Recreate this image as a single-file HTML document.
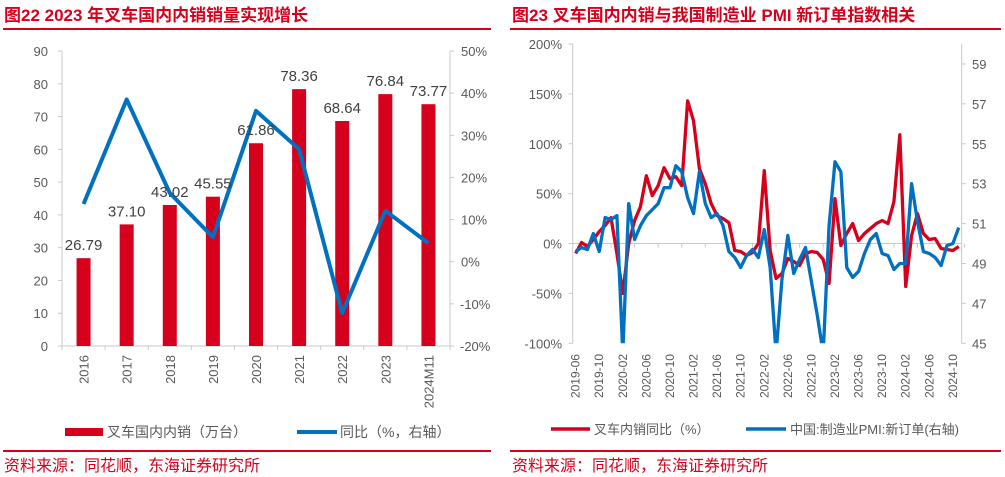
<!DOCTYPE html>
<html><head><meta charset="utf-8"><style>
html,body{margin:0;padding:0;background:#fff;width:1005px;height:477px;overflow:hidden;}
svg{display:block;font-family:"Liberation Sans","Noto Sans CJK SC",sans-serif;}
</style></head><body>
<svg id="s" width="1005" height="477" viewBox="0 0 1005 477" xmlns="http://www.w3.org/2000/svg">
<text x="4" y="21" font-size="17" font-weight="bold" fill="#d6001c">图22  2023 年叉车国内内销销量实现增长</text>
<line x1="3" y1="29" x2="491" y2="29" stroke="#d6001c" stroke-width="2"/>
<text x="512" y="21" font-size="17" font-weight="bold" fill="#d6001c">图23  叉车国内内销与我国制造业 PMI 新订单指数相关</text>
<line x1="510" y1="29" x2="1001" y2="29" stroke="#d6001c" stroke-width="2"/>
<line x1="3" y1="451" x2="491" y2="451" stroke="#d6001c" stroke-width="2"/>
<line x1="510" y1="451" x2="1001" y2="451" stroke="#d6001c" stroke-width="2"/>
<text x="4" y="471" font-size="16" fill="#d6001c">资料来源：同花顺，东海证券研究所</text>
<text x="512" y="471" font-size="16" fill="#d6001c">资料来源：同花顺，东海证券研究所</text>
<g id="L"></g>
<g id="R"></g>
</svg>
<script>
const barCats=["2016","2017","2018","2019","2020","2021","2022","2023","2024M11"];
const barVals=[26.79,37.10,43.02,45.55,61.86,78.36,68.64,76.84,73.77];
const growthVals=[13.7,38.5,16.3,5.8,35.8,26.7,-12.2,12.1,4.4];
const leftTicks=[0,10,20,30,40,50,60,70,80,90];
const rightTicks=[-20,-10,0,10,20,30,40,50];

const redVals=[-10,1,-3,4,12,18,26,-10,-50,0,23,37,68,48,58,76,65,67,58,143,123,75,60,40,28,25,21,-7,-8,-12,-9,0,73,-7,-35,-30,-15,-18,-22,-10,-8,-9,-16,-40,45,-2,10,20,3,10,15,20,23,20,42,109,-43,8,30,10,4,5,-5,-6,-7,-3];
const pmiVals=[49.6,49.8,49.7,50.5,49.6,51.3,51.2,51.4,29.3,52.0,50.2,50.9,51.4,51.7,52.0,52.8,52.8,53.9,53.6,52.3,51.5,53.6,52.0,51.3,51.5,50.9,49.6,49.3,48.8,49.4,49.7,49.3,50.7,48.8,42.6,48.2,50.4,48.5,49.2,49.8,48.1,46.4,43.9,50.9,54.1,53.6,48.8,48.3,48.6,49.5,50.2,50.5,49.5,49.4,48.7,49.0,49.0,53.0,51.1,49.6,49.5,49.3,48.9,49.9,50.0,50.8];
const pctTicks=[-100,-50,0,50,100,150,200];
const pmiTicks=[45,47,49,51,53,55,57,59];
const startYear=2019,startMonth=6;

const NS="http://www.w3.org/2000/svg";
function mk(tag,attrs,parent,text){const e=document.createElementNS(NS,tag);for(const k in attrs)e.setAttribute(k,attrs[k]);if(text!==undefined)e.textContent=text;parent.appendChild(e);return e;}
const RED="#d6001c",BLUE="#0070c0",GRID="#c8c8c8",TXT="#595959";

const L=document.getElementById('L');
const lx0=62,lx1=450,ly0=346,ly1=51;
const bw=(lx1-lx0)/barCats.length;
const xL=i=>lx0+bw*(i+0.5);
const yL=v=>ly0-(v/90)*(ly0-ly1);
const yG=v=>ly0-((v+20)/70)*(ly0-ly1);
let e;
e=mk('line',{x1:lx0,y1:ly1,x2:lx0,y2:ly0,stroke:GRID},L);


e=mk('line',{x1:lx1,y1:ly1,x2:lx1,y2:ly0,stroke:GRID},L);


e=mk('line',{x1:lx0,y1:ly0,x2:lx1,y2:ly0,stroke:GRID},L);


leftTicks.forEach(t=>{
  mk('line',{x1:lx0-4,y1:yL(t),x2:lx0,y2:yL(t),stroke:GRID},L);
  e=mk('text',{x:48,y:yL(t)+5,'font-size':13,fill:TXT,'text-anchor':'end'},L,String(t));
  
  
});
rightTicks.forEach(t=>{
  mk('line',{x1:lx1,y1:yG(t),x2:lx1+4,y2:yG(t),stroke:GRID},L);
  e=mk('text',{x:t<0?460:461,y:yG(t)+5,'font-size':13,fill:TXT},L,t+'%');
  
  
});
for(let i=0;i<=barCats.length;i++)mk('line',{x1:lx0+bw*i,y1:ly0,x2:lx0+bw*i,y2:ly0+4,stroke:GRID},L);
barCats.forEach((c,i)=>{
  e=mk('rect',{x:xL(i)-7,y:yL(barVals[i]),width:14,height:ly0-yL(barVals[i]),fill:RED},L);
  
  
  e=mk('text',{x:xL(i),y:350,'font-size':13,fill:TXT,'text-anchor':'end',transform:`rotate(-90 ${xL(i)+5} 350)`},L,c);
  
  
});
let pts=growthVals.map((v,i)=>xL(i)+','+yG(v)).join(' ');
e=mk('polyline',{points:pts,fill:'none',stroke:BLUE,'stroke-width':4,'stroke-linejoin':'round'},L);


barCats.forEach((c,i)=>{
  e=mk('text',{x:xL(i),y:yL(barVals[i])-8,'font-size':15,fill:'#404040','text-anchor':'middle'},L,barVals[i].toFixed(2));
  
  
});
e=mk('rect',{x:65,y:428,width:38,height:8,fill:RED},L);


e=mk('text',{x:107,y:437,'font-size':14,fill:TXT},L,'叉车国内内销（万台）');


e=mk('line',{x1:297,y1:432,x2:337,y2:432,stroke:BLUE,'stroke-width':4},L);


e=mk('text',{x:340,y:437,'font-size':14,fill:TXT},L,'同比（%，右轴）');



const R=document.getElementById('R');
const rx0=572.7,rx1=961.7,ry0=343.3,ry1=44;
const n=redVals.length;
const step=(rx1-rx0)/n;
const xR=i=>rx0+step*(i+0.5);
const yP=v=>ry0-((Math.min(205,Math.max(-105,v))+100)/300)*(ry0-ry1);
const yM=v=>ry0-((Math.min(60.5,Math.max(44.5,v))-45)/15)*(ry0-ry1);
const defs=mk('defs',{},R);
const cp=mk('clipPath',{id:'clipR'},defs);
mk('rect',{x:rx0,y:ry1,width:rx1-rx0,height:ry0-ry1},cp);
e=mk('line',{x1:rx0,y1:ry1,x2:rx0,y2:ry0,stroke:GRID},R);


e=mk('line',{x1:rx1,y1:ry1,x2:rx1,y2:ry0,stroke:GRID},R);


e=mk('line',{x1:rx0,y1:yP(0),x2:rx1,y2:yP(0),stroke:GRID},R);


pctTicks.forEach(t=>{
  mk('line',{x1:rx0-4,y1:yP(t),x2:rx0,y2:yP(t),stroke:GRID},R);
  e=mk('text',{x:562,y:yP(t)+5,'font-size':13,fill:TXT,'text-anchor':'end'},R,t+'%');
  
  
});
pmiTicks.forEach(t=>{
  mk('line',{x1:rx1,y1:yM(t),x2:rx1+4,y2:yM(t),stroke:GRID},R);
  e=mk('text',{x:972,y:yM(t)+5,'font-size':13,fill:TXT},R,String(t));
  
  
});
for(let i=0;i<n;i+=4){
  const m=startMonth-1+i, yr=startYear+Math.floor(m/12), mo=m%12+1;
  const lab=yr+'-'+String(mo).padStart(2,'0');
  mk('line',{x1:xR(i)+step*2,y1:yP(0),x2:xR(i)+step*2,y2:yP(0)+4,stroke:GRID},R);
  e=mk('text',{x:xR(i),y:350,'font-size':12,fill:TXT,'text-anchor':'end',transform:`rotate(-90 ${xR(i)+4} 350)`},R,lab);
  
  
}
const gl=mk('g',{'clip-path':'url(#clipR)'},R);
e=mk('polyline',{points:redVals.map((v,i)=>xR(i)+','+yP(v)).join(' '),fill:'none',stroke:RED,'stroke-width':3.3,'stroke-linejoin':'round'},gl);


e=mk('polyline',{points:pmiVals.map((v,i)=>xR(i)+','+yM(v)).join(' '),fill:'none',stroke:BLUE,'stroke-width':3.3,'stroke-linejoin':'round'},gl);


e=mk('line',{x1:551,y1:429,x2:590,y2:429,stroke:RED,'stroke-width':3.5},R);


e=mk('text',{x:594,y:434,'font-size':13,fill:TXT},R,'叉车内销同比（%）');


e=mk('line',{x1:746,y1:429,x2:786,y2:429,stroke:BLUE,'stroke-width':3.5},R);


e=mk('text',{x:790,y:434,'font-size':13,fill:TXT},R,'中国:制造业PMI:新订单(右轴)');


</script>
</body></html>
